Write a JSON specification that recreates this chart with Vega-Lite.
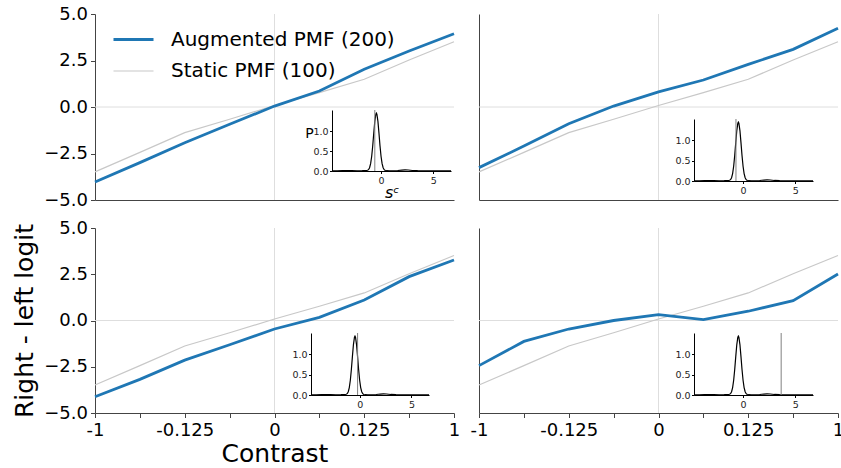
{
  "$schema": "https://vega.github.io/schema/vega-lite/v6.json",
  "background": "white",
  "padding": {"left": 12, "top": 5, "right": 0, "bottom": 0},
  "config": {
    "font": "DejaVu Sans",
    "view": {"stroke": null},
    "axis": {"grid": false, "minExtent": 0, "domainColor": "#444", "tickColor": "#444", "labelColor": "#000", "titleColor": "#000", "titleFontWeight": "normal", "domainWidth": 1, "tickWidth": 1}
  },
  "datasets": {
    "pmf": [
      {"panel": "TL", "series": "Static PMF (100)", "contrast": "-1", "logit": -3.49},
      {"panel": "TL", "series": "Static PMF (100)", "contrast": "-0.25", "logit": -2.44},
      {"panel": "TL", "series": "Static PMF (100)", "contrast": "-0.125", "logit": -1.38},
      {"panel": "TL", "series": "Static PMF (100)", "contrast": "-0.0625", "logit": -0.66},
      {"panel": "TL", "series": "Static PMF (100)", "contrast": "0", "logit": 0.08},
      {"panel": "TL", "series": "Static PMF (100)", "contrast": "0.0625", "logit": 0.77},
      {"panel": "TL", "series": "Static PMF (100)", "contrast": "0.125", "logit": 1.49},
      {"panel": "TL", "series": "Static PMF (100)", "contrast": "0.25", "logit": 2.53},
      {"panel": "TL", "series": "Static PMF (100)", "contrast": "1", "logit": 3.51},
      {"panel": "TL", "series": "Augmented PMF (200)", "contrast": "-1", "logit": -4.03},
      {"panel": "TL", "series": "Augmented PMF (200)", "contrast": "-0.25", "logit": -2.99},
      {"panel": "TL", "series": "Augmented PMF (200)", "contrast": "-0.125", "logit": -1.92},
      {"panel": "TL", "series": "Augmented PMF (200)", "contrast": "-0.0625", "logit": -0.93},
      {"panel": "TL", "series": "Augmented PMF (200)", "contrast": "0", "logit": 0.05},
      {"panel": "TL", "series": "Augmented PMF (200)", "contrast": "0.0625", "logit": 0.86},
      {"panel": "TL", "series": "Augmented PMF (200)", "contrast": "0.125", "logit": 2.03},
      {"panel": "TL", "series": "Augmented PMF (200)", "contrast": "0.25", "logit": 3.01},
      {"panel": "TL", "series": "Augmented PMF (200)", "contrast": "1", "logit": 3.94},
      {"panel": "TR", "series": "Static PMF (100)", "contrast": "-1", "logit": -3.49},
      {"panel": "TR", "series": "Static PMF (100)", "contrast": "-0.25", "logit": -2.44},
      {"panel": "TR", "series": "Static PMF (100)", "contrast": "-0.125", "logit": -1.38},
      {"panel": "TR", "series": "Static PMF (100)", "contrast": "-0.0625", "logit": -0.66},
      {"panel": "TR", "series": "Static PMF (100)", "contrast": "0", "logit": 0.08},
      {"panel": "TR", "series": "Static PMF (100)", "contrast": "0.0625", "logit": 0.77},
      {"panel": "TR", "series": "Static PMF (100)", "contrast": "0.125", "logit": 1.49},
      {"panel": "TR", "series": "Static PMF (100)", "contrast": "0.25", "logit": 2.53},
      {"panel": "TR", "series": "Static PMF (100)", "contrast": "1", "logit": 3.51},
      {"panel": "TR", "series": "Augmented PMF (200)", "contrast": "-1", "logit": -3.26},
      {"panel": "TR", "series": "Augmented PMF (200)", "contrast": "-0.25", "logit": -2.10},
      {"panel": "TR", "series": "Augmented PMF (200)", "contrast": "-0.125", "logit": -0.90},
      {"panel": "TR", "series": "Augmented PMF (200)", "contrast": "-0.0625", "logit": 0.05},
      {"panel": "TR", "series": "Augmented PMF (200)", "contrast": "0", "logit": 0.81},
      {"panel": "TR", "series": "Augmented PMF (200)", "contrast": "0.0625", "logit": 1.45},
      {"panel": "TR", "series": "Augmented PMF (200)", "contrast": "0.125", "logit": 2.29},
      {"panel": "TR", "series": "Augmented PMF (200)", "contrast": "0.25", "logit": 3.10},
      {"panel": "TR", "series": "Augmented PMF (200)", "contrast": "1", "logit": 4.23},
      {"panel": "BL", "series": "Static PMF (100)", "contrast": "-1", "logit": -3.49},
      {"panel": "BL", "series": "Static PMF (100)", "contrast": "-0.25", "logit": -2.44},
      {"panel": "BL", "series": "Static PMF (100)", "contrast": "-0.125", "logit": -1.38},
      {"panel": "BL", "series": "Static PMF (100)", "contrast": "-0.0625", "logit": -0.66},
      {"panel": "BL", "series": "Static PMF (100)", "contrast": "0", "logit": 0.08},
      {"panel": "BL", "series": "Static PMF (100)", "contrast": "0.0625", "logit": 0.77},
      {"panel": "BL", "series": "Static PMF (100)", "contrast": "0.125", "logit": 1.49},
      {"panel": "BL", "series": "Static PMF (100)", "contrast": "0.25", "logit": 2.53},
      {"panel": "BL", "series": "Static PMF (100)", "contrast": "1", "logit": 3.51},
      {"panel": "BL", "series": "Augmented PMF (200)", "contrast": "-1", "logit": -4.12},
      {"panel": "BL", "series": "Augmented PMF (200)", "contrast": "-0.25", "logit": -3.18},
      {"panel": "BL", "series": "Augmented PMF (200)", "contrast": "-0.125", "logit": -2.14},
      {"panel": "BL", "series": "Augmented PMF (200)", "contrast": "-0.0625", "logit": -1.31},
      {"panel": "BL", "series": "Augmented PMF (200)", "contrast": "0", "logit": -0.46},
      {"panel": "BL", "series": "Augmented PMF (200)", "contrast": "0.0625", "logit": 0.17},
      {"panel": "BL", "series": "Augmented PMF (200)", "contrast": "0.125", "logit": 1.11},
      {"panel": "BL", "series": "Augmented PMF (200)", "contrast": "0.25", "logit": 2.37},
      {"panel": "BL", "series": "Augmented PMF (200)", "contrast": "1", "logit": 3.27},
      {"panel": "BR", "series": "Static PMF (100)", "contrast": "-1", "logit": -3.49},
      {"panel": "BR", "series": "Static PMF (100)", "contrast": "-0.25", "logit": -2.44},
      {"panel": "BR", "series": "Static PMF (100)", "contrast": "-0.125", "logit": -1.38},
      {"panel": "BR", "series": "Static PMF (100)", "contrast": "-0.0625", "logit": -0.66},
      {"panel": "BR", "series": "Static PMF (100)", "contrast": "0", "logit": 0.08},
      {"panel": "BR", "series": "Static PMF (100)", "contrast": "0.0625", "logit": 0.77},
      {"panel": "BR", "series": "Static PMF (100)", "contrast": "0.125", "logit": 1.49},
      {"panel": "BR", "series": "Static PMF (100)", "contrast": "0.25", "logit": 2.53},
      {"panel": "BR", "series": "Static PMF (100)", "contrast": "1", "logit": 3.51},
      {"panel": "BR", "series": "Augmented PMF (200)", "contrast": "-1", "logit": -2.44},
      {"panel": "BR", "series": "Augmented PMF (200)", "contrast": "-0.25", "logit": -1.13},
      {"panel": "BR", "series": "Augmented PMF (200)", "contrast": "-0.125", "logit": -0.46},
      {"panel": "BR", "series": "Augmented PMF (200)", "contrast": "-0.0625", "logit": 0.0},
      {"panel": "BR", "series": "Augmented PMF (200)", "contrast": "0", "logit": 0.32},
      {"panel": "BR", "series": "Augmented PMF (200)", "contrast": "0.0625", "logit": 0.05},
      {"panel": "BR", "series": "Augmented PMF (200)", "contrast": "0.125", "logit": 0.50},
      {"panel": "BR", "series": "Augmented PMF (200)", "contrast": "0.25", "logit": 1.07},
      {"panel": "BR", "series": "Augmented PMF (200)", "contrast": "1", "logit": 2.51}
    ],
    "density": [
      {"s": -4.7, "p": 0.004}, {"s": -4.2, "p": 0.006}, {"s": -3.7, "p": 0.01}, {"s": -3.2, "p": 0.012},
      {"s": -2.8, "p": 0.009}, {"s": -2.3, "p": 0.006}, {"s": -1.8, "p": 0.007}, {"s": -1.5, "p": 0.01},
      {"s": -1.3, "p": 0.018}, {"s": -1.2, "p": 0.033}, {"s": -1.1, "p": 0.082}, {"s": -1.0, "p": 0.184},
      {"s": -0.9, "p": 0.364}, {"s": -0.8, "p": 0.628}, {"s": -0.7, "p": 0.947}, {"s": -0.6, "p": 1.245},
      {"s": -0.5, "p": 1.427}, {"s": -0.45, "p": 1.452}, {"s": -0.4, "p": 1.427}, {"s": -0.3, "p": 1.245},
      {"s": -0.2, "p": 0.947}, {"s": -0.1, "p": 0.628}, {"s": 0.0, "p": 0.364}, {"s": 0.1, "p": 0.184},
      {"s": 0.2, "p": 0.082}, {"s": 0.3, "p": 0.033}, {"s": 0.4, "p": 0.013}, {"s": 0.5, "p": 0.007},
      {"s": 0.8, "p": 0.005}, {"s": 1.2, "p": 0.006}, {"s": 1.6, "p": 0.012}, {"s": 2.0, "p": 0.024},
      {"s": 2.3, "p": 0.03}, {"s": 2.6, "p": 0.025}, {"s": 3.0, "p": 0.013}, {"s": 3.5, "p": 0.007},
      {"s": 4.2, "p": 0.004}, {"s": 5.0, "p": 0.003}, {"s": 6.0, "p": 0.002}, {"s": 6.7, "p": 0.002}
    ],
    "vline": [
      {"panel": "TL", "s": -0.6},
      {"panel": "TR", "s": -0.68},
      {"panel": "BL", "s": -0.2},
      {"panel": "BR", "s": 3.65}
    ]
  },
  "columns": 2,
  "bounds": "flush",
  "spacing": {"row": 28, "column": 25},
  "resolve": {"scale": {"color": "independent", "strokeWidth": "independent"}},
  "concat": [
    {
      "width": 359, "height": 186,
      "resolve": {"scale": {"x": "independent", "y": "independent"}},
      "layer": [
        {
          "layer": [
            {"data": {"values": [{}]}, "mark": {"type": "rule", "color": "#dedede", "strokeWidth": 1},
             "encoding": {"x": {"datum": "0", "type": "ordinal"}}},
            {"data": {"values": [{}]}, "mark": {"type": "rule", "color": "#dedede", "strokeWidth": 1},
             "encoding": {"y": {"datum": 0, "type": "quantitative"}}},
            {"data": {"name": "pmf"},
             "transform": [{"filter": "datum.panel === 'TL' && datum.series === 'Static PMF (100)'"}],
             "mark": {"type": "line"},
             "encoding": {
               "x": {"field": "contrast", "type": "ordinal",
                     "scale": {"type": "point", "padding": 0, "domain": ["-1", "-0.25", "-0.125", "-0.0625", "0", "0.0625", "0.125", "0.25", "1"]},
                     "axis": {"labels": false, "ticks": false, "title": null}},
               "y": {"field": "logit", "type": "quantitative",
                     "scale": {"domain": [-5, 5], "nice": false, "zero": false},
                     "axis": {"values": [-5, -2.5, 0, 2.5, 5], "format": ".1f", "labelFontSize": 18, "tickSize": 4.5, "labelPadding": 3, "title": null}},
               "color": {"field": "series", "type": "nominal",
                         "scale": {"domain": ["Augmented PMF (200)", "Static PMF (100)"], "range": ["#1f77b4", "#c8c8c8"]},
                         "legend": {"orient": "none", "legendX": 17, "legendY": 4, "title": null, "labelFontSize": 20, "labelLimit": 400, "labelColor": "#000", "symbolType": "stroke", "symbolSize": 1600, "labelOffset": 16, "rowPadding": -1}},
               "strokeWidth": {"field": "series", "type": "nominal",
                         "scale": {"domain": ["Augmented PMF (200)", "Static PMF (100)"], "range": [2.8, 1.2]},
                         "legend": {"orient": "none", "legendX": 17, "legendY": 4, "title": null, "labelFontSize": 20, "labelLimit": 400, "labelColor": "#000", "symbolType": "stroke", "symbolSize": 1600, "labelOffset": 16, "rowPadding": -1}}
             }},
            {"data": {"name": "pmf"},
             "transform": [{"filter": "datum.panel === 'TL' && datum.series === 'Augmented PMF (200)'"}],
             "mark": {"type": "line"},
             "encoding": {
               "x": {"field": "contrast", "type": "ordinal"},
               "y": {"field": "logit", "type": "quantitative"},
               "color": {"field": "series", "type": "nominal"},
               "strokeWidth": {"field": "series", "type": "nominal"}
             }}
          ]
        },
        {
          "layer": [
            {"data": {"name": "density"},
             "mark": {"type": "line", "color": "black", "strokeWidth": 1.2},
             "encoding": {
               "x": {"field": "s", "type": "quantitative",
                     "scale": {"domain": [-4.7, 6.7], "range": [237, 356], "nice": false, "zero": false},
                     "axis": {"orient": "bottom", "offset": -29, "values": [0, 5], "format": "d", "labelFontSize": 9.5, "tickSize": 2.5, "labelPadding": 1.5, "domainColor": "#000", "tickColor": "#000", "labelColor": "#222",
                              "title": "sᶜ", "titleFontSize": 16, "titleFontStyle": "italic", "titleY": 26, "titleBaseline": "alphabetic"}},
               "y": {"field": "p", "type": "quantitative",
                     "scale": {"domain": [0, 1.53], "range": [157, 96], "nice": false, "zero": false},
                     "axis": {"orient": "left", "offset": -237, "values": [0, 0.5, 1], "format": ".1f", "labelFontSize": 9.5, "tickSize": 2.5, "labelPadding": 1.5, "domainColor": "#000", "tickColor": "#000", "labelColor": "#222",
                              "title": "P", "titleAngle": 0, "titleFontSize": 14, "titleX": -23, "titleY": 123, "titleAlign": "center", "titleBaseline": "alphabetic"}}
             }},
            {"data": {"name": "vline"},
             "transform": [{"filter": "datum.panel === 'TL'"}],
             "mark": {"type": "rule", "color": "#808080", "strokeWidth": 1},
             "encoding": {
               "x": {"field": "s", "type": "quantitative"},
               "y": {"datum": 0},
               "y2": {"datum": 1.53}
             }}
          ]
        }
      ]
    },
    {
      "width": 359, "height": 186,
      "resolve": {"scale": {"x": "independent", "y": "independent"}},
      "layer": [
        {
          "layer": [
            {"data": {"values": [{}]}, "mark": {"type": "rule", "color": "#dedede", "strokeWidth": 1},
             "encoding": {"x": {"datum": "0", "type": "ordinal"}}},
            {"data": {"values": [{}]}, "mark": {"type": "rule", "color": "#dedede", "strokeWidth": 1},
             "encoding": {"y": {"datum": 0, "type": "quantitative"}}},
            {"data": {"name": "pmf"},
             "transform": [{"filter": "datum.panel === 'TR' && datum.series === 'Static PMF (100)'"}],
             "mark": {"type": "line"},
             "encoding": {
               "x": {"field": "contrast", "type": "ordinal",
                     "scale": {"type": "point", "padding": 0, "domain": ["-1", "-0.25", "-0.125", "-0.0625", "0", "0.0625", "0.125", "0.25", "1"]},
                     "axis": {"labels": false, "ticks": false, "title": null}},
               "y": {"field": "logit", "type": "quantitative",
                     "scale": {"domain": [-5, 5], "nice": false, "zero": false},
                     "axis": {"labels": false, "ticks": false, "title": null}},
               "color": {"field": "series", "type": "nominal",
                         "scale": {"domain": ["Augmented PMF (200)", "Static PMF (100)"], "range": ["#1f77b4", "#c8c8c8"]}, "legend": null},
               "strokeWidth": {"field": "series", "type": "nominal",
                         "scale": {"domain": ["Augmented PMF (200)", "Static PMF (100)"], "range": [2.8, 1.2]}, "legend": null}
             }},
            {"data": {"name": "pmf"},
             "transform": [{"filter": "datum.panel === 'TR' && datum.series === 'Augmented PMF (200)'"}],
             "mark": {"type": "line"},
             "encoding": {
               "x": {"field": "contrast", "type": "ordinal"},
               "y": {"field": "logit", "type": "quantitative"},
               "color": {"field": "series", "type": "nominal"},
               "strokeWidth": {"field": "series", "type": "nominal"}
             }}
          ]
        },
        {
          "layer": [
            {"data": {"name": "density"},
             "mark": {"type": "line", "color": "black", "strokeWidth": 1.2},
             "encoding": {
               "x": {"field": "s", "type": "quantitative",
                     "scale": {"domain": [-4.7, 6.7], "range": [215, 334], "nice": false, "zero": false},
                     "axis": {"orient": "bottom", "offset": -19, "values": [0, 5], "format": "d", "labelFontSize": 9.5, "tickSize": 2.5, "labelPadding": 1.5, "domainColor": "#000", "tickColor": "#000", "labelColor": "#222", "title": null}},
               "y": {"field": "p", "type": "quantitative",
                     "scale": {"domain": [0, 1.53], "range": [167, 105], "nice": false, "zero": false},
                     "axis": {"orient": "left", "offset": -215, "values": [0, 0.5, 1], "format": ".1f", "labelFontSize": 9.5, "tickSize": 2.5, "labelPadding": 1.5, "domainColor": "#000", "tickColor": "#000", "labelColor": "#222", "title": null}}
             }},
            {"data": {"name": "vline"},
             "transform": [{"filter": "datum.panel === 'TR'"}],
             "mark": {"type": "rule", "color": "#808080", "strokeWidth": 1},
             "encoding": {
               "x": {"field": "s", "type": "quantitative"},
               "y": {"datum": 0},
               "y2": {"datum": 1.53}
             }}
          ]
        }
      ]
    },
    {
      "width": 359, "height": 185,
      "resolve": {"scale": {"x": "independent", "y": "independent"}},
      "layer": [
        {
          "layer": [
            {"data": {"values": [{}]}, "mark": {"type": "rule", "color": "#dedede", "strokeWidth": 1},
             "encoding": {"x": {"datum": "0", "type": "ordinal"}}},
            {"data": {"values": [{}]}, "mark": {"type": "rule", "color": "#dedede", "strokeWidth": 1},
             "encoding": {"y": {"datum": 0, "type": "quantitative"}}},
            {"data": {"name": "pmf"},
             "transform": [{"filter": "datum.panel === 'BL' && datum.series === 'Static PMF (100)'"}],
             "mark": {"type": "line"},
             "encoding": {
               "x": {"field": "contrast", "type": "ordinal",
                     "scale": {"type": "point", "padding": 0, "domain": ["-1", "-0.25", "-0.125", "-0.0625", "0", "0.0625", "0.125", "0.25", "1"]},
                     "axis": {"labelExpr": "indexof(['-1','-0.125','0','0.125','1'], datum.label) >= 0 ? datum.label : ''", "labelAngle": 0, "labelAlign": "center", "labelBaseline": "top", "labelOverlap": false, "labelFontSize": 18, "tickSize": 4.5, "labelPadding": 4, "title": "Contrast", "titleFontSize": 25, "titlePadding": 2}},
               "y": {"field": "logit", "type": "quantitative",
                     "scale": {"domain": [-5, 5], "nice": false, "zero": false},
                     "axis": {"values": [-5, -2.5, 0, 2.5, 5], "format": ".1f", "labelFontSize": 18, "tickSize": 4.5, "labelPadding": 3, "title": "Right - left logit", "titleFontSize": 25, "titlePadding": 6}},
               "color": {"field": "series", "type": "nominal",
                         "scale": {"domain": ["Augmented PMF (200)", "Static PMF (100)"], "range": ["#1f77b4", "#c8c8c8"]}, "legend": null},
               "strokeWidth": {"field": "series", "type": "nominal",
                         "scale": {"domain": ["Augmented PMF (200)", "Static PMF (100)"], "range": [2.8, 1.2]}, "legend": null}
             }},
            {"data": {"name": "pmf"},
             "transform": [{"filter": "datum.panel === 'BL' && datum.series === 'Augmented PMF (200)'"}],
             "mark": {"type": "line"},
             "encoding": {
               "x": {"field": "contrast", "type": "ordinal"},
               "y": {"field": "logit", "type": "quantitative"},
               "color": {"field": "series", "type": "nominal"},
               "strokeWidth": {"field": "series", "type": "nominal"}
             }}
          ]
        },
        {
          "layer": [
            {"data": {"name": "density"},
             "mark": {"type": "line", "color": "black", "strokeWidth": 1.2},
             "encoding": {
               "x": {"field": "s", "type": "quantitative",
                     "scale": {"domain": [-4.7, 6.7], "range": [216, 334], "nice": false, "zero": false},
                     "axis": {"orient": "bottom", "offset": -18, "values": [0, 5], "format": "d", "labelFontSize": 9.5, "tickSize": 2.5, "labelPadding": 1.5, "domainColor": "#000", "tickColor": "#000", "labelColor": "#222", "title": null}},
               "y": {"field": "p", "type": "quantitative",
                     "scale": {"domain": [0, 1.53], "range": [167, 105], "nice": false, "zero": false},
                     "axis": {"orient": "left", "offset": -216, "values": [0, 0.5, 1], "format": ".1f", "labelFontSize": 9.5, "tickSize": 2.5, "labelPadding": 1.5, "domainColor": "#000", "tickColor": "#000", "labelColor": "#222", "title": null}}
             }},
            {"data": {"name": "vline"},
             "transform": [{"filter": "datum.panel === 'BL'"}],
             "mark": {"type": "rule", "color": "#808080", "strokeWidth": 1},
             "encoding": {
               "x": {"field": "s", "type": "quantitative"},
               "y": {"datum": 0},
               "y2": {"datum": 1.53}
             }}
          ]
        }
      ]
    },
    {
      "width": 359, "height": 185,
      "resolve": {"scale": {"x": "independent", "y": "independent"}},
      "layer": [
        {
          "layer": [
            {"data": {"values": [{}]}, "mark": {"type": "rule", "color": "#dedede", "strokeWidth": 1},
             "encoding": {"x": {"datum": "0", "type": "ordinal"}}},
            {"data": {"values": [{}]}, "mark": {"type": "rule", "color": "#dedede", "strokeWidth": 1},
             "encoding": {"y": {"datum": 0, "type": "quantitative"}}},
            {"data": {"name": "pmf"},
             "transform": [{"filter": "datum.panel === 'BR' && datum.series === 'Static PMF (100)'"}],
             "mark": {"type": "line"},
             "encoding": {
               "x": {"field": "contrast", "type": "ordinal",
                     "scale": {"type": "point", "padding": 0, "domain": ["-1", "-0.25", "-0.125", "-0.0625", "0", "0.0625", "0.125", "0.25", "1"]},
                     "axis": {"labelExpr": "indexof(['-1','-0.125','0','0.125','1'], datum.label) >= 0 ? datum.label : ''", "labelAngle": 0, "labelAlign": "center", "labelBaseline": "top", "labelOverlap": false, "labelFontSize": 18, "tickSize": 4.5, "labelPadding": 4, "title": null}},
               "y": {"field": "logit", "type": "quantitative",
                     "scale": {"domain": [-5, 5], "nice": false, "zero": false},
                     "axis": {"labels": false, "ticks": false, "title": null}},
               "color": {"field": "series", "type": "nominal",
                         "scale": {"domain": ["Augmented PMF (200)", "Static PMF (100)"], "range": ["#1f77b4", "#c8c8c8"]}, "legend": null},
               "strokeWidth": {"field": "series", "type": "nominal",
                         "scale": {"domain": ["Augmented PMF (200)", "Static PMF (100)"], "range": [2.8, 1.2]}, "legend": null}
             }},
            {"data": {"name": "pmf"},
             "transform": [{"filter": "datum.panel === 'BR' && datum.series === 'Augmented PMF (200)'"}],
             "mark": {"type": "line"},
             "encoding": {
               "x": {"field": "contrast", "type": "ordinal"},
               "y": {"field": "logit", "type": "quantitative"},
               "color": {"field": "series", "type": "nominal"},
               "strokeWidth": {"field": "series", "type": "nominal"}
             }}
          ]
        },
        {
          "layer": [
            {"data": {"name": "density"},
             "mark": {"type": "line", "color": "black", "strokeWidth": 1.2},
             "encoding": {
               "x": {"field": "s", "type": "quantitative",
                     "scale": {"domain": [-4.7, 6.7], "range": [215, 334], "nice": false, "zero": false},
                     "axis": {"orient": "bottom", "offset": -18, "values": [0, 5], "format": "d", "labelFontSize": 9.5, "tickSize": 2.5, "labelPadding": 1.5, "domainColor": "#000", "tickColor": "#000", "labelColor": "#222", "title": null}},
               "y": {"field": "p", "type": "quantitative",
                     "scale": {"domain": [0, 1.53], "range": [167, 105], "nice": false, "zero": false},
                     "axis": {"orient": "left", "offset": -215, "values": [0, 0.5, 1], "format": ".1f", "labelFontSize": 9.5, "tickSize": 2.5, "labelPadding": 1.5, "domainColor": "#000", "tickColor": "#000", "labelColor": "#222", "title": null}}
             }},
            {"data": {"name": "vline"},
             "transform": [{"filter": "datum.panel === 'BR'"}],
             "mark": {"type": "rule", "color": "#808080", "strokeWidth": 1},
             "encoding": {
               "x": {"field": "s", "type": "quantitative"},
               "y": {"datum": 0},
               "y2": {"datum": 1.53}
             }}
          ]
        }
      ]
    }
  ]
}
